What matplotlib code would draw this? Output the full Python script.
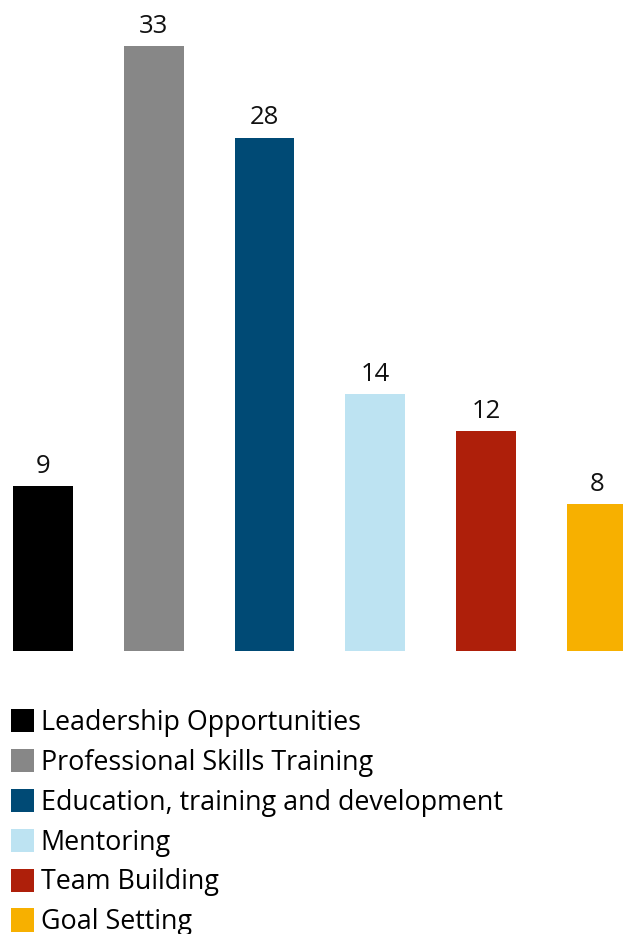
import matplotlib
matplotlib.use("Agg")
import matplotlib.pyplot as plt

# ----- Data ---------------------------------------------------------------
categories = [
    "Leadership Opportunities",
    "Professional Skills Training",
    "Education, training and development",
    "Mentoring",
    "Team Building",
    "Goal Setting",
]
values = [9, 33, 28, 14, 12, 8]
colors = ["#000000", "#878787", "#004a75", "#bde3f2", "#ae1f0a", "#f7b000"]

plt.rcParams["font.family"] = ["Open Sans", "DejaVu Sans"]

fig = plt.figure(figsize=(6.23, 9.34), dpi=100)
ax = fig.add_axes([0, 0.303, 1, 0.697])

x = list(range(len(values)))
bars = ax.bar(x, values, width=0.54, color=colors, label=categories)
for xi, v in zip(x, values):
    ax.text(xi, v + 0.4, str(v), ha="center", va="bottom",
            fontsize=18.5, color="#111111", clip_on=False)

ax.set_xlim(-0.388, 5.235)
ax.set_ylim(0, 35.5)
ax.axis("off")

# legend sits below the bars; the last row runs off the bottom edge as in the source
fig.legend(
    bars, categories,
    loc="upper left", bbox_to_anchor=(11 / 623, 1 - 709 / 934),
    frameon=False, fontsize=19.4, borderpad=0, borderaxespad=0,
    handlelength=0.85, handleheight=0.95, handletextpad=0.25,
    labelspacing=0.44,
)

fig.savefig("out.png", dpi=100)
